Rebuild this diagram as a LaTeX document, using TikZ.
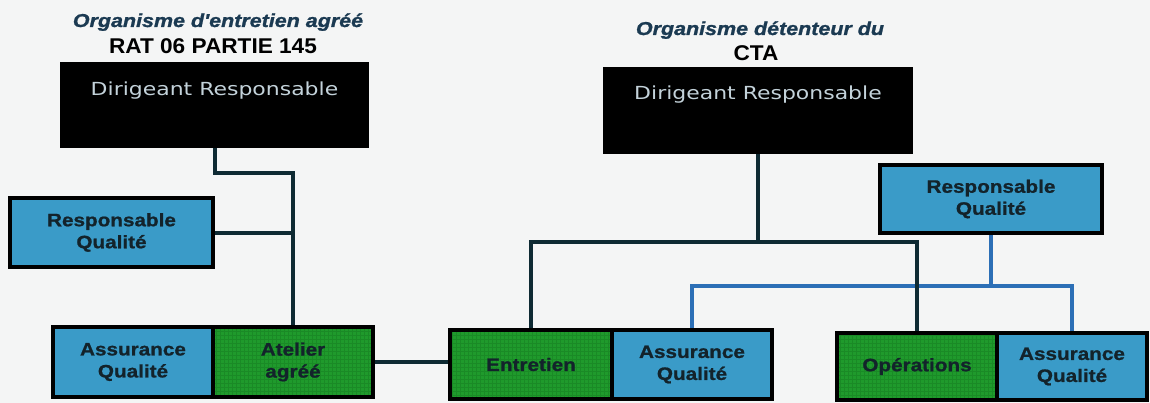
\documentclass[tikz,border=0pt]{standalone}
\usepackage{fontspec}
\setmainfont{Liberation Sans}
\newfontfamily\lblfont[FakeStretch=1.15,BoldFeatures={FakeBold=1}]{Liberation Sans}
\newfontfamily\ttlfont[FakeStretch=1.15,BoldItalicFeatures={FakeBold=1.2}]{Liberation Sans}
\newfontfamily\hdfont[FakeStretch=1.06]{Liberation Sans}
\newfontfamily\drfont[FakeStretch=1.22]{DejaVu Sans}
\usetikzlibrary{patterns,backgrounds}
\definecolor{bgc}{HTML}{F4F5F5}
\definecolor{boxblue}{HTML}{3A9BC8}
\definecolor{boxgreen}{HTML}{1F9A2C}
\definecolor{gridgreen}{HTML}{1A8A26}
\definecolor{linedark}{HTML}{0E2A33}
\definecolor{lineblue}{HTML}{2C6FB6}
\definecolor{txtdark}{HTML}{13232B}
\definecolor{ttlcol}{HTML}{1B3A52}
\definecolor{drtext}{HTML}{C3D2DA}
\begin{document}
\begin{tikzpicture}[x=0.75pt,y=-0.75pt,
  boxbase/.style={draw=black, line width=3pt, inner sep=0pt, align=center, text=txtdark,
    font=\lblfont\bfseries\fontsize{13.5}{16.5}\selectfont},
  bluebox/.style={boxbase, fill=boxblue},
  greenbox/.style={boxbase, preaction={fill=boxgreen}, pattern=grid, pattern color=gridgreen},
  headbox/.style={fill=black, inner sep=0pt},
  headtext/.style={text=drtext, font=\drfont\fontsize{13.5}{16}\selectfont, anchor=base, inner sep=0pt},
  ttl/.style={text=ttlcol, font=\ttlfont\bfseries\itshape\fontsize{14}{16}\selectfont, anchor=base, inner sep=0pt},
  hd/.style={text=black, font=\hdfont\bfseries\fontsize{16}{18}\selectfont, anchor=base, inner sep=0pt},
  darkline/.style={draw=linedark, line width=3pt},
  blueline/.style={draw=lineblue, line width=3pt}]
\useasboundingbox (0,0) rectangle (1150,403);

% titles
\node[ttl] (t1) at (218,27) {Organisme d'entretien agréé};
\node[hd] (t2) at (213,54) {RAT 06 PARTIE 145};
\node[ttl] (t3) at (760,35) {Organisme détenteur du};
\node[hd] (t4) at (756,61) {CTA};

% head boxes
\node[headbox, minimum width=231.75pt, minimum height=64.5pt] (dr1) at (214.5,105) {};
\node[headtext] (dr1t) at (214.5,96) {Dirigeant Responsable};
\node[headbox, minimum width=232.5pt, minimum height=65.25pt] (dr2) at (758,110.5) {};
\node[headtext] (dr2t) at (758,100) {Dirigeant Responsable};

% left organisation
\node[bluebox, minimum width=152.25pt, minimum height=51.75pt] (rq1) at (111.5,232.5) {Responsable\\Qualité};
\node[bluebox, minimum width=120pt, minimum height=52.5pt] (aq1) at (133,362) {Assurance\\Qualité};
\node[greenbox, minimum width=120pt, minimum height=52.5pt] (at1) at (293,362) {Atelier\\agréé};

% right organisation
\node[bluebox, minimum width=166.5pt, minimum height=51pt] (rq2) at (991,199) {Responsable\\Qualité};
\node[greenbox, minimum width=121.5pt, minimum height=51.75pt] (en) at (531,364.5) {Entretien};
\node[bluebox, minimum width=120pt, minimum height=51.75pt] (aq2) at (692,364.5) {Assurance\\Qualité};
\node[greenbox, minimum width=120pt, minimum height=50.25pt] (op) at (917,366.5) {Opérations};
\node[bluebox, minimum width=112.5pt, minimum height=50.25pt] (aq3) at (1072,366.5) {Assurance\\Qualité};

\begin{scope}[on background layer]
  \fill[bgc] (0,0) rectangle (1150,403);
  % blue quality links
  \draw[blueline] (rq2.south) -- ++(0,51) coordinate (c3);
  \draw[blueline] (aq2.north) |- (c3) -| (aq3.north);
  % dark links
  \draw[darkline] (dr1.south) -- ++(0,25) -| (at1.north);
  \draw[darkline] (rq1.east) -- (rq1.east -| at1.north);
  \draw[darkline] (at1.east) -- (at1.east -| en.west);
  \draw[darkline] (dr2.south) -- ++(0,88) coordinate (c2);
  \draw[darkline] (en.north) |- (c2) -| (op.north);
\end{scope}
\end{tikzpicture}
\end{document}
